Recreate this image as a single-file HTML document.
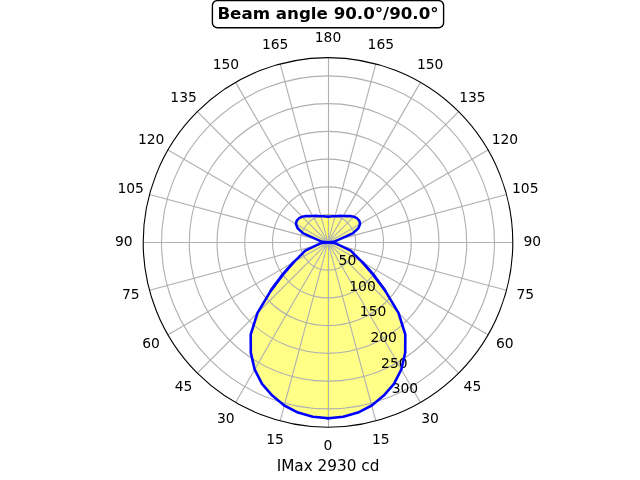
<!DOCTYPE html>
<html lang="en"><head><meta charset="utf-8"><title>Beam angle 90.0°/90.0°</title>
<style>html,body{margin:0;padding:0;background:#fff;overflow:hidden}svg{display:block}</style>
</head><body>
<svg width="640" height="480" viewBox="0 0 640 480">
<rect width="640" height="480" fill="#fff"/>
<g fill="#ffff00" fill-opacity="0.27" stroke="none">
<path d="M328 418.23 L343.25 416.73 L358 412.56 L371.7 405.5 L383.76 395.61 L393.98 383.89 L401.36 369.46 L405.2 352.65 L405.29 334.51 L398.46 312.86 L384.83 290.09 L371.76 273.04 L362.52 262.33 L354.89 254.94 L350.73 250.67 L340.3 245.7 L336.61 243.92 L334.62 242.98 L328 242.4 L333.74 241.9 L335.52 241.07 L339.28 239.38 L352.71 233.41 L358.36 228.24 L360.08 223.88 L359.2 220.55 L356.84 218.2 L353.72 216.68 L350.13 216.02 L346.42 216.1 L343.22 216.03 L340.35 215.91 L337.58 216.08 L335.02 216.2 L332.61 216.23 L330.27 216.48 L328 216.66 Z"/>
<path d="M328 418.23 L312.75 416.73 L298 412.56 L284.3 405.5 L272.24 395.61 L262.02 383.89 L254.64 369.46 L250.8 352.65 L250.71 334.51 L257.54 312.86 L271.17 290.09 L284.24 273.04 L293.48 262.33 L301.11 254.94 L305.27 250.67 L315.7 245.7 L319.39 243.92 L321.38 242.98 L328 242.4 L322.26 241.9 L320.48 241.07 L316.72 239.38 L303.29 233.41 L297.64 228.24 L295.92 223.88 L296.8 220.55 L299.16 218.2 L302.28 216.68 L305.87 216.02 L309.58 216.1 L312.78 216.03 L315.65 215.91 L318.42 216.08 L320.98 216.2 L323.39 216.23 L325.73 216.48 L328 216.66 Z"/>
<path d="M328 418.23 L343.25 416.73 L358 412.56 L371.7 405.5 L383.76 395.61 L393.98 383.89 L401.36 369.46 L405.2 352.65 L405.29 334.51 L398.46 312.86 L384.83 290.09 L373.12 274 L362.52 262.33 L354.89 254.94 L350.73 250.67 L340.3 245.7 L336.61 243.92 L334.62 242.98 L328 242.4 L333.74 241.9 L335.52 241.07 L339.28 239.38 L352.71 233.41 L358.36 228.24 L360.08 223.88 L359.2 220.55 L356.84 218.2 L353.72 216.68 L350.13 216.02 L346.42 216.1 L343.22 216.03 L340.35 215.91 L337.58 216.08 L335.02 216.2 L332.61 216.23 L330.27 216.48 L328 216.66 Z"/>
<path d="M328 418.23 L312.75 416.73 L298 412.56 L284.3 405.5 L272.24 395.61 L262.02 383.89 L254.64 369.46 L250.8 352.65 L250.71 334.51 L257.54 312.86 L271.17 290.09 L282.88 274 L293.48 262.33 L301.11 254.94 L305.27 250.67 L315.7 245.7 L319.39 243.92 L321.38 242.98 L328 242.4 L322.26 241.9 L320.48 241.07 L316.72 239.38 L303.29 233.41 L297.64 228.24 L295.92 223.88 L296.8 220.55 L299.16 218.2 L302.28 216.68 L305.87 216.02 L309.58 216.1 L312.78 216.03 L315.65 215.91 L318.42 216.08 L320.98 216.2 L323.39 216.23 L325.73 216.48 L328 216.66 Z"/>
</g>
<path d="M327.5 216.66 V418.23" stroke="#ffff38" stroke-width="1" fill="none"/>
<g fill="none" stroke="#b0b0b0" stroke-width="1.11">
<path d="M328.5 242.4 L328.5 427.2"/>
<path d="M328 242.4 L375.83 420.9"/>
<path d="M328 242.4 L420.4 402.44"/>
<path d="M328 242.4 L458.67 373.07"/>
<path d="M328 242.4 L488.04 334.8"/>
<path d="M328 242.4 L506.5 290.23"/>
<path d="M328 242.5 L512.8 242.5"/>
<path d="M328 242.4 L506.5 194.57"/>
<path d="M328 242.4 L488.04 150"/>
<path d="M328 242.4 L458.67 111.73"/>
<path d="M328 242.4 L420.4 82.36"/>
<path d="M328 242.4 L375.83 63.9"/>
<path d="M328.5 242.4 L328.5 57.6"/>
<path d="M328 242.4 L280.17 63.9"/>
<path d="M328 242.4 L235.6 82.36"/>
<path d="M328 242.4 L197.33 111.73"/>
<path d="M328 242.4 L167.96 150"/>
<path d="M328 242.4 L149.5 194.57"/>
<path d="M328 242.5 L143.2 242.5"/>
<path d="M328 242.4 L149.5 290.23"/>
<path d="M328 242.4 L167.96 334.8"/>
<path d="M328 242.4 L197.33 373.07"/>
<path d="M328 242.4 L235.6 402.44"/>
<path d="M328 242.4 L280.17 420.9"/>
<circle cx="328" cy="242.4" r="27.75"/>
<circle cx="328" cy="242.4" r="55.5"/>
<circle cx="328" cy="242.4" r="83.24"/>
<circle cx="328" cy="242.4" r="110.99"/>
<circle cx="328" cy="242.4" r="138.74"/>
<circle cx="328" cy="242.4" r="166.49"/>
</g>
<g font-family="'DejaVu Sans', 'Liberation Sans', sans-serif" fill="#000">
<text x="328" y="450.48" font-size="13.89" text-anchor="middle">0</text>
<text x="380.86" y="443.52" font-size="13.89" text-anchor="middle">15</text>
<text x="430.12" y="423.11" font-size="13.89" text-anchor="middle">30</text>
<text x="472.42" y="390.66" font-size="13.89" text-anchor="middle">45</text>
<text x="504.88" y="348.35" font-size="13.89" text-anchor="middle">60</text>
<text x="525.28" y="299.09" font-size="13.89" text-anchor="middle">75</text>
<text x="532.24" y="246.23" font-size="13.89" text-anchor="middle">90</text>
<text x="525.28" y="193.37" font-size="13.89" text-anchor="middle">105</text>
<text x="504.88" y="144.11" font-size="13.89" text-anchor="middle">120</text>
<text x="472.42" y="101.81" font-size="13.89" text-anchor="middle">135</text>
<text x="430.12" y="69.35" font-size="13.89" text-anchor="middle">150</text>
<text x="380.86" y="48.95" font-size="13.89" text-anchor="middle">165</text>
<text x="328" y="41.99" font-size="13.89" text-anchor="middle">180</text>
<text x="275.14" y="48.95" font-size="13.89" text-anchor="middle">165</text>
<text x="225.88" y="69.35" font-size="13.89" text-anchor="middle">150</text>
<text x="183.58" y="101.81" font-size="13.89" text-anchor="middle">135</text>
<text x="151.12" y="144.11" font-size="13.89" text-anchor="middle">120</text>
<text x="130.72" y="193.37" font-size="13.89" text-anchor="middle">105</text>
<text x="123.76" y="246.23" font-size="13.89" text-anchor="middle">90</text>
<text x="130.72" y="299.09" font-size="13.89" text-anchor="middle">75</text>
<text x="151.12" y="348.35" font-size="13.89" text-anchor="middle">60</text>
<text x="183.58" y="390.66" font-size="13.89" text-anchor="middle">45</text>
<text x="225.88" y="423.11" font-size="13.89" text-anchor="middle">30</text>
<text x="275.14" y="443.52" font-size="13.89" text-anchor="middle">15</text>
<text x="328" y="470.53" font-size="15.28" text-anchor="middle">IMax 2930 cd</text>
<text x="338.62" y="265.15" font-size="13.89" text-anchor="start">50</text>
<text x="349.24" y="290.78" font-size="13.89" text-anchor="start">100</text>
<text x="359.86" y="316.42" font-size="13.89" text-anchor="start">150</text>
<text x="370.47" y="342.05" font-size="13.89" text-anchor="start">200</text>
<text x="381.09" y="367.69" font-size="13.89" text-anchor="start">250</text>
<text x="391.71" y="393.33" font-size="13.89" text-anchor="start">300</text>
</g>
<g fill="none" stroke="#0000ff" stroke-width="2.6" stroke-linejoin="round" stroke-linecap="square">
<path d="M328 418.23 L343.25 416.73 L358 412.56 L371.7 405.5 L383.76 395.61 L393.98 383.89 L401.36 369.46 L405.2 352.65 L405.29 334.51 L398.46 312.86 L384.83 290.09 L371.76 273.04 L362.52 262.33 L354.89 254.94 L350.73 250.67 L340.3 245.7 L336.61 243.92 L334.62 242.98 L328 242.4 L333.74 241.9 L335.52 241.07 L339.28 239.38 L352.71 233.41 L358.36 228.24 L360.08 223.88 L359.2 220.55 L356.84 218.2 L353.72 216.68 L350.13 216.02 L346.42 216.1 L343.22 216.03 L340.35 215.91 L337.58 216.08 L335.02 216.2 L332.61 216.23 L330.27 216.48 L328 216.66"/>
<path d="M384.83 290.09 L373.12 274 L362.52 262.33"/>
<path d="M328 418.23 L312.75 416.73 L298 412.56 L284.3 405.5 L272.24 395.61 L262.02 383.89 L254.64 369.46 L250.8 352.65 L250.71 334.51 L257.54 312.86 L271.17 290.09 L284.24 273.04 L293.48 262.33 L301.11 254.94 L305.27 250.67 L315.7 245.7 L319.39 243.92 L321.38 242.98 L328 242.4 L322.26 241.9 L320.48 241.07 L316.72 239.38 L303.29 233.41 L297.64 228.24 L295.92 223.88 L296.8 220.55 L299.16 218.2 L302.28 216.68 L305.87 216.02 L309.58 216.1 L312.78 216.03 L315.65 215.91 L318.42 216.08 L320.98 216.2 L323.39 216.23 L325.73 216.48 L328 216.66"/>
<path d="M271.17 290.09 L282.88 274 L293.48 262.33"/>
</g>
<circle cx="328" cy="242.4" r="184.8" fill="none" stroke="#000" stroke-width="1.11"/>
<rect x="212.4" y="0.6" width="231.2" height="27.1" rx="5" ry="5" fill="#fff" stroke="#000" stroke-width="1.39"/>
<text x="328" y="19.21" font-family="'DejaVu Sans', 'Liberation Sans', sans-serif" font-weight="700" font-size="16.67" text-anchor="middle">Beam angle 90.0°/90.0°</text>
</svg>
</body></html>
